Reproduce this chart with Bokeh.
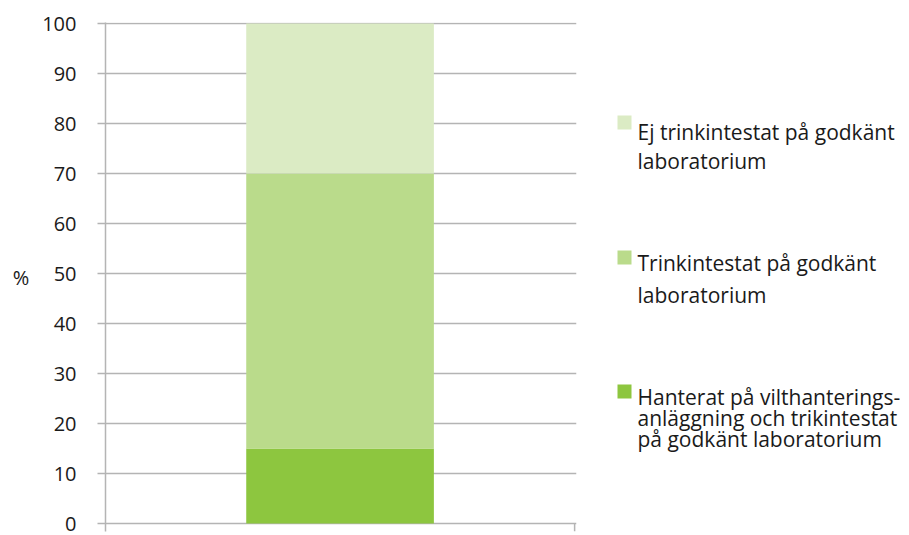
from bokeh.plotting import figure
from bokeh.models import Range1d, FixedTicker, ColumnDataSource
from bokeh.layouts import row
from bokeh.embed import file_html
from bokeh.resources import INLINE
from bokeh.core.properties import value

# ---- data ----
categories = ["Vildsvin"]
series_names = ["Hanterat", "Trinkintestat", "Ej trinkintestat"]
hanterat = [15]
trinkintestat = [55]
ej_trinkintestat = [30]
colors = ["#8dc63f", "#badb8b", "#dbebc4"]
y_ticks = list(range(0, 101, 10))
legend_lines = [
    ["Ej trinkintestat på godkänt", "laboratorium"],
    ["Trinkintestat på godkänt", "laboratorium"],
    ["Hanterat på vilthanterings-", "anläggning och trikintestat", "på godkänt laboratorium"],
]
legend_colors = [colors[2], colors[1], colors[0]]

FONT = "Open Sans"
GRID = "#b4b4b4"
TXT = "#1a1a1a"

x_pos = [i + 0.5 for i in range(len(categories))]
src = ColumnDataSource(dict(x=x_pos, Hanterat=hanterat, Trinkintestat=trinkintestat,
                            **{"Ej trinkintestat": ej_trinkintestat}))

BL, BR, BT, BB = 105, 20, 22, 4
FW, FH = 471, 509
p = figure(output_backend="svg", toolbar_location=None,
           width=BL + FW + BR, height=BT + FH + BB,
           x_range=Range1d(0, len(categories) * 1.004), y_range=Range1d(-1.6, 100.2),
           min_border_left=BL, min_border_right=BR, min_border_top=BT, min_border_bottom=BB)
p.outline_line_color = None
p.background_fill_color = "white"
p.border_fill_color = "white"

p.vbar_stack(series_names, x="x", width=0.4, source=src, color=colors, line_color=None)

# x axis replacement: end ticks below zero line
p.xaxis.visible = False
p.xgrid.visible = False
p.segment(x0=[len(categories)], y0=[-1.6], x1=[len(categories)], y1=[0],
          line_color=GRID, line_width=1.5)

p.yaxis.ticker = FixedTicker(ticks=y_ticks)
p.yaxis.minor_tick_line_color = None
p.yaxis.major_tick_out = 8
p.yaxis.major_tick_in = 0
p.yaxis.major_tick_line_color = GRID
p.yaxis.major_tick_line_width = 1.5
p.yaxis.axis_line_color = GRID
p.yaxis.axis_line_width = 1.5
p.yaxis.major_label_standoff = 21
p.yaxis.major_label_text_font = FONT
p.yaxis.major_label_text_font_size = "20px"
p.yaxis.major_label_text_color = TXT
p.yaxis.axis_label = "%"
p.yaxis.axis_label_orientation = "horizontal"
p.yaxis.axis_label_standoff = 10
p.yaxis.axis_label_text_font = FONT
p.yaxis.axis_label_text_font_size = "20px"
p.yaxis.axis_label_text_font_style = "normal"
p.yaxis.axis_label_text_color = TXT
p.ygrid.grid_line_color = GRID
p.ygrid.grid_line_width = 1.5
p.ygrid.ticker = FixedTicker(ticks=y_ticks)

# ---- legend figure (page-pixel coordinates) ----
X0 = BL + FW + BR
LW = 304
lg = figure(output_backend="svg", toolbar_location=None, width=LW, height=BT + FH + BB,
            x_range=Range1d(X0, X0 + LW), y_range=Range1d(BT + FH, BT),
            min_border_left=0, min_border_right=0, min_border_top=BT, min_border_bottom=BB)
lg.xaxis.visible = False
lg.yaxis.visible = False
lg.grid.visible = False
lg.outline_line_color = None

square_y = [122, 257, 391]
baselines = [[131, 160], [262, 294], [396, 417, 438]]
sx, sys_, tx, tt, ty = [], [], [], [], []
for lines, sq, bl in zip(legend_lines, square_y, baselines):
    sx.append(624)
    sys_.append(sq)
    for t, b in zip(lines, bl):
        tx.append(637)
        tt.append(t)
        ty.append(b)
lg.rect(x=sx, y=sys_, width=14, height=14, color=legend_colors, line_color=None)
lg.text(x=tx, y=ty, text=tt, text_font=value(FONT), text_font_size="21px",
        text_baseline="alphabetic", text_align="left", text_color=TXT)

layout = row(p, lg)
open("out.html", "w").write(file_html(layout, INLINE))
